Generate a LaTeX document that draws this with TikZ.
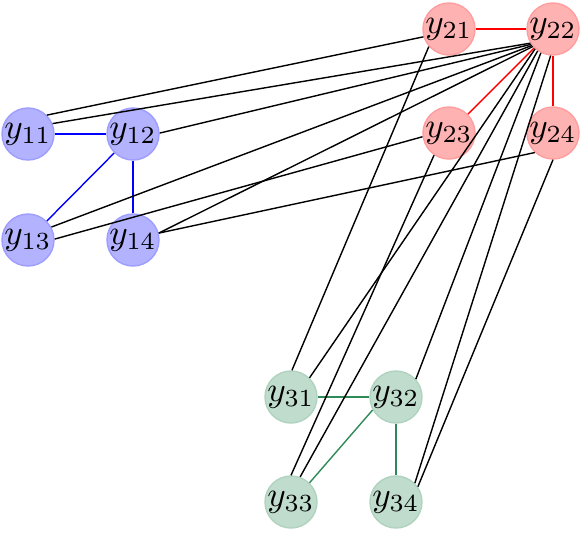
\documentclass[tikz,border=0pt]{standalone}
\usepackage{tikz}
\definecolor{seagreen}{RGB}{46,139,87}
\tikzset{
  vtx/.style={circle,minimum size=0.52cm,inner sep=0pt},
  bluevtx/.style={vtx,fill=blue!30,draw=blue!38},
  redvtx/.style={vtx,fill=red!30,draw=red!38},
  greenvtx/.style={vtx,fill=seagreen!30,draw=seagreen!38},
}
\begin{document}
\begin{tikzpicture}[x=0.01cm,y=-0.01cm]
\useasboundingbox (0,0) rectangle (581,532);

\node[bluevtx] (y11) at (28,134) {$y_{11}$};
\node[bluevtx] (y12) at (133,134) {$y_{12}$};
\node[bluevtx] (y13) at (28,240) {$y_{13}$};
\node[bluevtx] (y14) at (133,240) {$y_{14}$};

\node[redvtx] (y21) at (449,29) {$y_{21}$};
\node[redvtx] (y22) at (553,29) {$y_{22}$};
\node[redvtx] (y23) at (449,133) {$y_{23}$};
\node[redvtx] (y24) at (553,133) {$y_{24}$};

\node[greenvtx] (y31) at (291,397) {$y_{31}$};
\node[greenvtx] (y32) at (396,397) {$y_{32}$};
\node[greenvtx] (y33) at (291,502) {$y_{33}$};
\node[greenvtx] (y34) at (396,502) {$y_{34}$};

\draw[blue] (y11) -- (y12);
\draw[blue] (y12) -- (y13);
\draw[blue] (y12) -- (y14);
\draw[red] (y21) -- (y22);
\draw[red] (y22) -- (y23);
\draw[red] (y22) -- (y24);
\draw[seagreen] (y31) -- (y32);
\draw[seagreen] (y32.209) -- (y33.46);
\draw[seagreen] (y32) -- (y34);

\draw (y11.45) -- (y21.197);
\draw (y11.23) -- (y22.212);
\draw (y12.2) -- (y22.215);
\draw (y13.29) -- (y22.218);
\draw (y13.2) -- (y23.188);
\draw (y14.15) -- (y22.221);
\draw (y14.15) -- (y24.227);
\draw (y21.221) -- (y31.88);
\draw (y22.228) -- (y31.46);
\draw (y22.243) -- (y32.42);
\draw (y22.235) -- (y33.70);
\draw (y22.265) -- (y34.45);
\draw (y23.236) -- (y33.90);
\draw (y24.270) -- (y34.35);
\end{tikzpicture}
\end{document}
